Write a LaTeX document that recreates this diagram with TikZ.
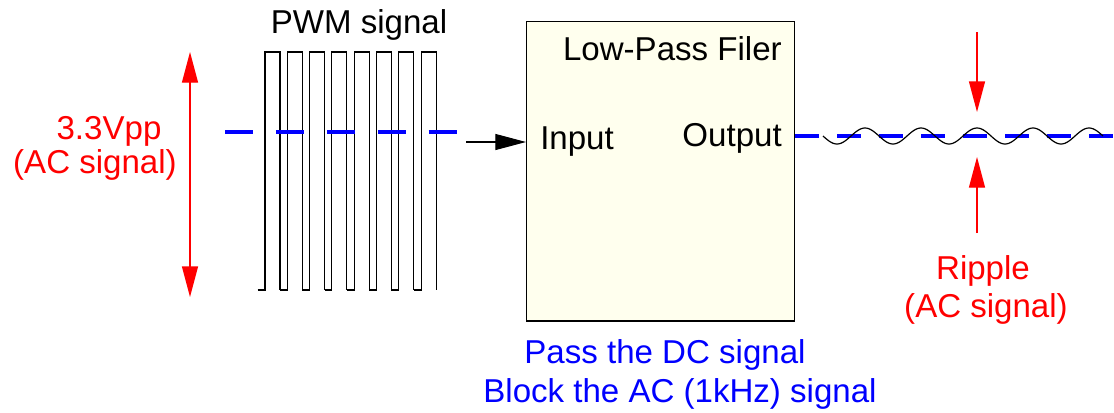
\documentclass[tikz,border=0pt]{standalone}
\usepackage{fontspec}
\setmainfont{Liberation Sans}
\usetikzlibrary{arrows.meta}
\definecolor{sigred}{RGB}{255, 0, 0}
\definecolor{sigblue}{RGB}{0, 0, 255}
\definecolor{lpfcream}{RGB}{255, 255, 238}
\tikzset{
  lbl/.style={font=\fontsize{24.8}{29}\selectfont, inner sep=0pt, anchor=base},
  redlbl/.style={lbl, text=sigred},
  bluelbl/.style={lbl, text=sigblue},
  redarr/.style={sigred, line width=1pt, -{Triangle[length=23pt,width=12pt]}},
  dcline/.style={sigblue, line width=2.8pt},
  pwm/.style={black, line width=0.8pt}
}
\begin{document}
\begin{tikzpicture}[x=0.75pt, y=-0.75pt]
    \useasboundingbox (0,0) rectangle (1114,412);
    % filter block
    \node[draw, line width=1pt, fill=lpfcream, anchor=north west,
          minimum width=201pt, minimum height=224.5pt] (lpf) at (526,21) {};
    \node[lbl, anchor=base east] (lpftitle) at (782,60) {Low-Pass Filer};
    \node[lbl, anchor=base west] (lpfin) at (540,149) {Input};
    \node[lbl, anchor=base east] (lpfout) at (782,146) {Output};
    \node[bluelbl] (pass) at (665,363) {Pass the DC signal};
    \node[bluelbl] (block) at (680,402) {Block the AC (1kHz) signal};
    % PWM input
    \node[lbl] (pwmtitle) at (359,33) {PWM signal};
    \foreach \i in {0,...,7}
      \draw[pwm] ({257.7+22.29*\i},290) -- ({265+22.29*\i},290) -- ({265+22.29*\i},52)
        -- ({280+22.29*\i},52) -- ({280+22.29*\i},290);
    \draw[dcline, dash pattern=on 21pt off 17.2pt] (225,132) -- (465,132);
    \coordinate (arrin) at (466,142);
    \draw[black, line width=0.8pt, -{Triangle[length=23pt,width=12pt]}] (arrin) -- (arrin -| lpf.west);
    % amplitude
    \coordinate (vtop) at (190,52);
    \coordinate (vbot) at (190,297);
    \draw[redarr, {Triangle[length=23pt,width=12pt]}-{Triangle[length=23pt,width=12pt]}] (vtop) -- (vbot);
    \node[redlbl] (vpp) at (109,139) {3.3Vpp};
    \node[redlbl] (vppac) at (95,173) {(AC signal)};
    % output with ripple
    \draw[dcline, dash pattern=on 17.5pt off 14pt] (lpf.east |- 0,136) -- (1114,136);
    \draw[black, line width=0.9pt] plot[domain=0:5, samples=200, smooth] ({823+56*\x},{136+8*sin(360*\x)});
    \coordinate (ripa) at (977,32);
    \coordinate (ripb) at (977,112);
    \coordinate (ripc) at (977,233);
    \coordinate (ripd) at (977,157);
    \draw[redarr] (ripa) -- (ripb);
    \draw[redarr] (ripc) -- (ripd);
    \node[redlbl] (ripple) at (983,279) {Ripple};
    \node[redlbl] (rippleac) at (986,317) {(AC signal)};
  \end{tikzpicture}
\end{document}
